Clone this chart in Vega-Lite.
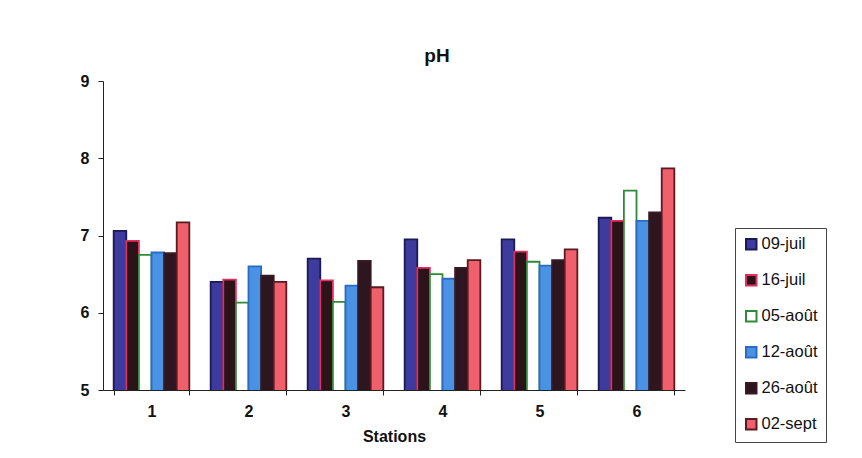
{
  "$schema": "https://vega.github.io/schema/vega-lite/v6.json",
  "width": 582,
  "height": 309,
  "autosize": {"type": "none"},
  "padding": {"left": 103, "top": 81, "right": 177, "bottom": 68},
  "background": "white",
  "title": {"text": "pH", "fontSize": 19, "font": "Liberation Sans", "fontWeight": "bold", "color": "#111", "offset": 7, "dx": 43},
  "data": {"values": [
    {"station": "1", "date": "09-juil", "ph": 7.06},
    {"station": "1", "date": "16-juil", "ph": 6.93},
    {"station": "1", "date": "05-août", "ph": 6.75},
    {"station": "1", "date": "12-août", "ph": 6.78},
    {"station": "1", "date": "26-août", "ph": 6.77},
    {"station": "1", "date": "02-sept", "ph": 7.17},
    {"station": "2", "date": "09-juil", "ph": 6.40},
    {"station": "2", "date": "16-juil", "ph": 6.43},
    {"station": "2", "date": "05-août", "ph": 6.13},
    {"station": "2", "date": "12-août", "ph": 6.60},
    {"station": "2", "date": "26-août", "ph": 6.48},
    {"station": "2", "date": "02-sept", "ph": 6.40},
    {"station": "3", "date": "09-juil", "ph": 6.70},
    {"station": "3", "date": "16-juil", "ph": 6.42},
    {"station": "3", "date": "05-août", "ph": 6.14},
    {"station": "3", "date": "12-août", "ph": 6.35},
    {"station": "3", "date": "26-août", "ph": 6.67},
    {"station": "3", "date": "02-sept", "ph": 6.33},
    {"station": "4", "date": "09-juil", "ph": 6.95},
    {"station": "4", "date": "16-juil", "ph": 6.58},
    {"station": "4", "date": "05-août", "ph": 6.50},
    {"station": "4", "date": "12-août", "ph": 6.44},
    {"station": "4", "date": "26-août", "ph": 6.58},
    {"station": "4", "date": "02-sept", "ph": 6.68},
    {"station": "5", "date": "09-juil", "ph": 6.95},
    {"station": "5", "date": "16-juil", "ph": 6.79},
    {"station": "5", "date": "05-août", "ph": 6.66},
    {"station": "5", "date": "12-août", "ph": 6.61},
    {"station": "5", "date": "26-août", "ph": 6.68},
    {"station": "5", "date": "02-sept", "ph": 6.82},
    {"station": "6", "date": "09-juil", "ph": 7.23},
    {"station": "6", "date": "16-juil", "ph": 7.19},
    {"station": "6", "date": "05-août", "ph": 7.58},
    {"station": "6", "date": "12-août", "ph": 7.19},
    {"station": "6", "date": "26-août", "ph": 7.30},
    {"station": "6", "date": "02-sept", "ph": 7.87}
  ]},
  "mark": {"type": "bar", "strokeWidth": 1.8, "clip": true},
  "encoding": {
    "x": {
      "field": "station", "type": "nominal", "sort": null,
      "scale": {"paddingInner": 0.22, "paddingOuter": 0.11},
      "axis": {"title": "Stations", "labelAngle": 0, "tickBand": "extent", "labelFont": "Liberation Sans", "labelFontSize": 16, "labelFontWeight": "bold", "labelColor": "#111", "titleFont": "Liberation Sans", "titleFontSize": 16, "titleFontWeight": "bold", "titleColor": "#111", "titlePadding": 9, "domainColor": "#222", "tickColor": "#222", "tickSize": 5, "labelPadding": 8}
    },
    "xOffset": {"field": "date", "type": "nominal", "sort": ["09-juil", "16-juil", "05-août", "12-août", "26-août", "02-sept"], "scale": {"paddingInner": 0, "paddingOuter": 0}},
    "y": {
      "field": "ph", "type": "quantitative",
      "scale": {"domain": [5, 9], "nice": false, "zero": false},
      "axis": {"title": null, "values": [5, 6, 7, 8, 9], "grid": false, "labelFont": "Liberation Sans", "labelFontSize": 16, "labelFontWeight": "bold", "labelColor": "#111", "domainColor": "#222", "tickColor": "#222", "tickSize": 5, "labelPadding": 9}
    },
    "fill": {
      "field": "date", "type": "nominal",
      "sort": ["09-juil", "16-juil", "05-août", "12-août", "26-août", "02-sept"],
      "scale": {"domain": ["09-juil", "16-juil", "05-août", "12-août", "26-août", "02-sept"], "range": ["#3e3b9e", "#2c1219", "#ffffff", "#4a92e4", "#2e1620", "#ef5f6c"]},
      "legend": {"title": null, "orient": "none", "legendX": 632, "legendY": 147, "symbolType": "square", "symbolSize": 110, "symbolStrokeWidth": 2, "labelFont": "Liberation Sans", "labelFontSize": 16.5, "labelFontWeight": "normal", "labelColor": "#111", "rowPadding": 17, "labelOffset": 2, "padding": 8, "strokeColor": "#444", "fillColor": "white"}
    },
    "stroke": {
      "field": "date", "type": "nominal",
      "sort": ["09-juil", "16-juil", "05-août", "12-août", "26-août", "02-sept"],
      "scale": {"domain": ["09-juil", "16-juil", "05-août", "12-août", "26-août", "02-sept"], "range": ["#1c1a55", "#e0305c", "#2f8a3a", "#2a6cc4", "#3a1a22", "#5a1a22"]},
      "legend": {"title": null, "orient": "none", "legendX": 632, "legendY": 147, "symbolType": "square", "symbolSize": 110, "symbolStrokeWidth": 2, "labelFont": "Liberation Sans", "labelFontSize": 16.5, "labelFontWeight": "normal", "labelColor": "#111", "rowPadding": 17, "labelOffset": 2, "padding": 8, "strokeColor": "#444", "fillColor": "white"}
    }
  },
  "config": {"view": {"stroke": null}}
}
